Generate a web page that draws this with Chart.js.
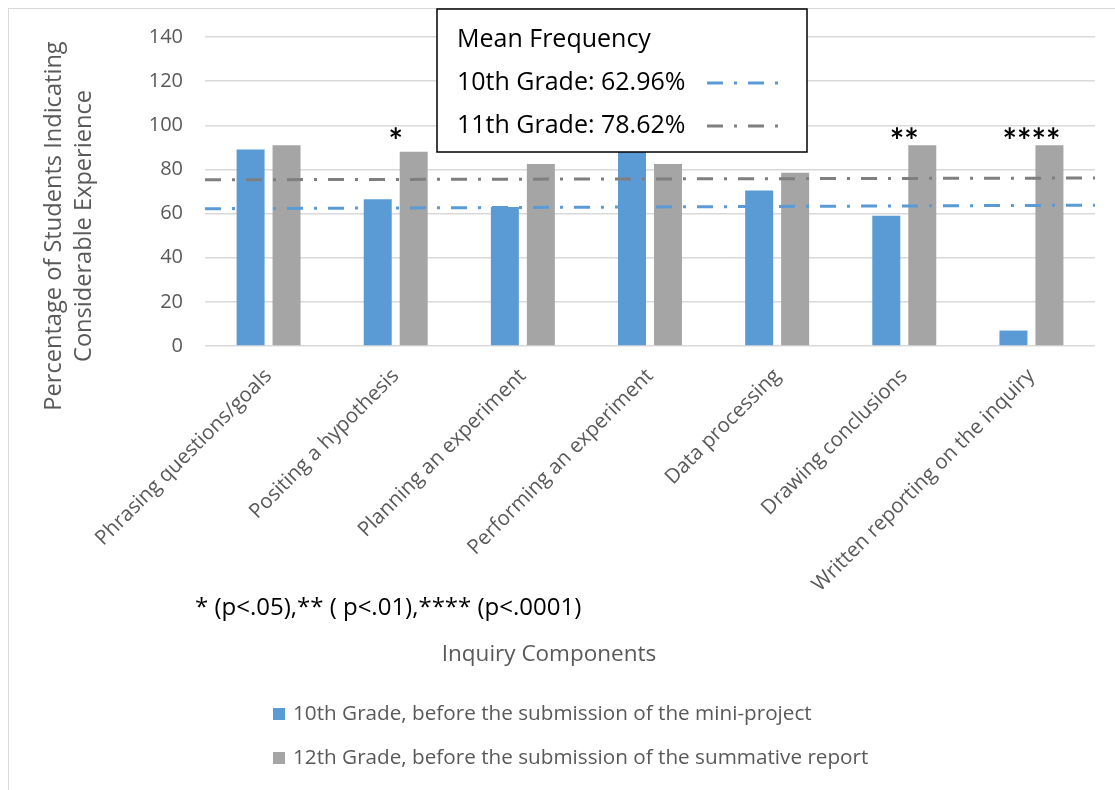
<!DOCTYPE html>
<html>
<head>
<meta charset="utf-8">
<script src="https://cdn.jsdelivr.net/npm/chart.js@4.4.1/dist/chart.umd.min.js"></script>
<style>
  html, body { margin: 0; padding: 0; background: #ffffff; }
  #wrap { width: 1115px; height: 790px; position: relative; }
</style>
</head>
<body>
<div id="wrap"><canvas id="c" width="1115" height="790"></canvas></div>
<script>
// ---- data ----
const categories = [
  'Phrasing questions/goals',
  'Positing a hypothesis',
  'Planning an experiment',
  'Performing an experiment',
  'Data processing',
  'Drawing conclusions',
  'Written reporting on the inquiry'
];
const grade10Values = [89, 66.5, 63, 90, 70.5, 59, 7];
const grade12Values = [91, 88, 82.5, 82.5, 78.5, 91, 91];
const significance = ['', '*', '', '', '', '**', '****'];
const significanceLevel = 87.5;
const mean10Line = [62.2, 63.8];
const mean12Line = [75.3, 76.1];
const lineSpan = [0, 1];
const yMin = 0, yMax = 140, yStep = 20;
const seriesNames = [
  '10th Grade, before the submission of the mini-project',
  '12th Grade, before the submission of the summative report'
];
const meanBoxLines = ['Mean Frequency', '10th Grade: 62.96%', '11th Grade: 78.62%'];
const yTitleLines = ['Percentage of Students Indicating', 'Considerable Experience'];
const xTitle = 'Inquiry Components';
const footnote = '* (p<.05),** ( p<.01),**** (p<.0001)';

// ---- styles ----
const FONT = '"Open Sans", "Noto Sans", sans-serif';
const STAR_FONT = 'Lato, "Open Sans", sans-serif';
const BLUE = '#5B9BD5';
const GRAY = '#A5A5A5';
const MEAN_GRAY = '#7F7F7F';
const TEXT_GRAY = '#595959';
const GRID = '#D9D9D9';
const DASH = [16, 11, 3, 11];

const toPoints = (vals) => vals.map((v, i) => ({ x: lineSpan[i], y: v }));

const decorPlugin = {
  id: 'decor',
  beforeDraw(chart) {
    const ctx = chart.ctx;
    ctx.save();
    ctx.fillStyle = '#ffffff';
    ctx.fillRect(0, 0, chart.width, chart.height);
    ctx.strokeStyle = GRID;
    ctx.lineWidth = 1;
    ctx.strokeRect(8.5, 8.5, chart.width + 20, chart.height + 20);
    ctx.restore();
  },
  afterDatasetsDraw(chart) {
    const ctx = chart.ctx;
    const xs = chart.scales.x, ys = chart.scales.y;
    ctx.save();
    // significance asterisks
    ctx.fillStyle = '#000000';
    ctx.font = 'bold 34px ' + STAR_FONT;
    ctx.textAlign = 'center';
    ctx.textBaseline = 'alphabetic';
    significance.forEach((s, i) => {
      if (s) ctx.fillText(s, xs.getPixelForValue(i), ys.getPixelForValue(significanceLevel));
    });
    // mean frequency box
    const bx = 437, by = 9, bw = 370, bh = 143;
    ctx.fillStyle = '#ffffff';
    ctx.fillRect(bx, by, bw, bh);
    ctx.strokeStyle = '#000000';
    ctx.lineWidth = 1.5;
    ctx.strokeRect(bx, by, bw, bh);
    ctx.fillStyle = '#000000';
    ctx.font = '25px ' + FONT;
    ctx.textAlign = 'left';
    ctx.textBaseline = 'middle';
    const rowY = [40, 83, 126];
    meanBoxLines.forEach((t, i) => ctx.fillText(t, bx + 20, rowY[i]));
    const sampleColors = [BLUE, MEAN_GRAY];
    sampleColors.forEach((c, i) => {
      ctx.beginPath();
      ctx.setLineDash(DASH);
      ctx.strokeStyle = c;
      ctx.lineWidth = 3;
      ctx.moveTo(707, rowY[i + 1]);
      ctx.lineTo(781, rowY[i + 1]);
      ctx.stroke();
    });
    ctx.restore();
  },
  afterDraw(chart) {
    const ctx = chart.ctx;
    ctx.save();
    // y axis title (two lines)
    ctx.fillStyle = TEXT_GRAY;
    ctx.font = '23.6px ' + FONT;
    ctx.textAlign = 'center';
    ctx.textBaseline = 'middle';
    const yTitleX = [54, 84];
    yTitleLines.forEach((t, i) => {
      ctx.save();
      ctx.translate(yTitleX[i], 226);
      ctx.rotate(-Math.PI / 2);
      ctx.fillText(t, 0, 0);
      ctx.restore();
    });
    // footnote
    ctx.fillStyle = '#000000';
    ctx.font = '24px ' + FONT;
    ctx.textAlign = 'left';
    ctx.fillText(footnote, 195, 608);
    // x axis title
    ctx.fillStyle = TEXT_GRAY;
    ctx.font = '22.5px ' + FONT;
    ctx.textAlign = 'center';
    ctx.fillText(xTitle, 549, 655);
    // legend
    const colors = [BLUE, GRAY];
    const legY = [714, 758];
    ctx.font = '20.7px ' + FONT;
    ctx.textAlign = 'left';
    seriesNames.forEach((n, i) => {
      ctx.fillStyle = colors[i];
      ctx.fillRect(273, legY[i] - 6, 12, 12);
      ctx.fillStyle = TEXT_GRAY;
      ctx.fillText(n, 293, legY[i]);
    });
    ctx.restore();
  }
};

new Chart(document.getElementById('c'), {
  data: {
    labels: categories,
    datasets: [
      { type: 'line', label: meanBoxLines[1], data: toPoints(mean10Line), xAxisID: 'x2',
        borderColor: BLUE, borderWidth: 3, borderDash: DASH, pointRadius: 0, fill: false, order: 0 },
      { type: 'line', label: meanBoxLines[2], data: toPoints(mean12Line), xAxisID: 'x2',
        borderColor: MEAN_GRAY, borderWidth: 3, borderDash: DASH, pointRadius: 0, fill: false, order: 0 },
      { type: 'bar', label: seriesNames[0], data: grade10Values, xAxisID: 'x',
        backgroundColor: BLUE, borderWidth: 0, categoryPercentage: 1.132, barPercentage: 0.778, order: 1 },
      { type: 'bar', label: seriesNames[1], data: grade12Values, xAxisID: 'x',
        backgroundColor: GRAY, borderWidth: 0, categoryPercentage: 1.132, barPercentage: 0.778, order: 1 }
    ]
  },
  options: {
    responsive: false,
    animation: false,
    devicePixelRatio: 1,
    layout: { padding: { left: 0, top: 37, right: 20, bottom: 0 } },
    plugins: { legend: { display: false }, tooltip: { enabled: false }, title: { display: false } },
    scales: {
      x: {
        type: 'category',
        offset: true,
        grid: { display: false, drawTicks: false },
        border: { display: false },
        ticks: {
          autoSkip: false, maxRotation: 45, minRotation: 45, padding: 18,
          color: TEXT_GRAY, font: { family: FONT, size: 20.5 }
        },
        afterFit(scale) { scale.height = 444; }
      },
      x2: { type: 'linear', display: false, min: 0, max: 1, offset: false },
      y: {
        min: yMin, max: yMax,
        grid: { color: GRID, lineWidth: 1.5, drawTicks: false },
        border: { display: false },
        ticks: { stepSize: yStep, padding: 22, color: TEXT_GRAY, font: { family: FONT, size: 20 } },
        afterFit(scale) { scale.width = 205; }
      }
    }
  },
  plugins: [decorPlugin]
});
</script>
</body>
</html>
